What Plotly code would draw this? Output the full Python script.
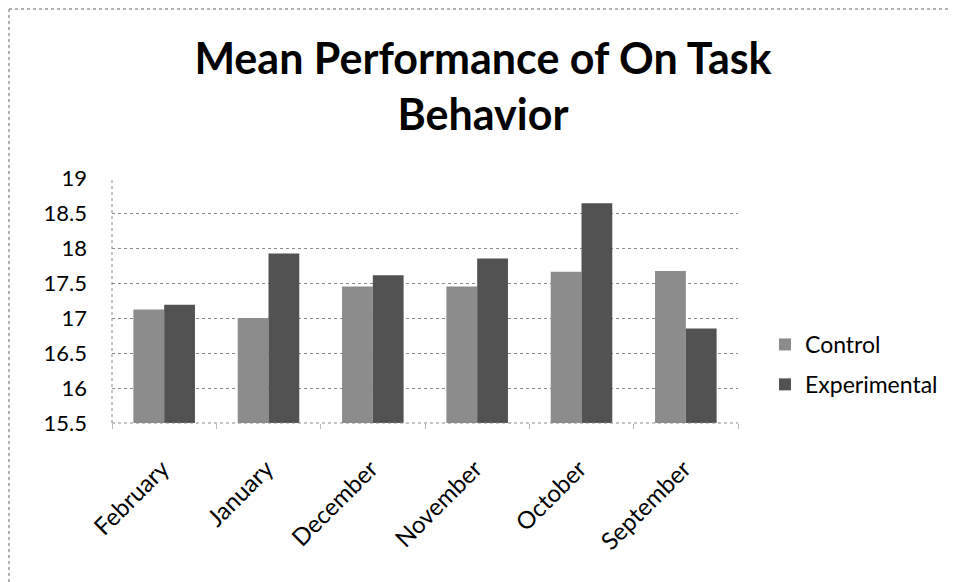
import plotly.graph_objects as go

months = ["February", "January", "December", "November", "October", "September"]
control = [17.12, 17.0, 17.45, 17.45, 17.66, 17.67]
experimental = [17.19, 17.92, 17.61, 17.85, 18.64, 16.85]
y_ticks = [15.5, 16, 16.5, 17, 17.5, 18, 18.5, 19]

FONT = "Lato, Open Sans, sans-serif"

fig = go.Figure()
fig.add_trace(go.Bar(x=months, y=control, name="Control", legendgroup="a",
                     marker=dict(color="#8c8c8c", line=dict(width=0))))
fig.add_trace(go.Bar(x=months, y=experimental, name="Experimental", legendgroup="b",
                     marker=dict(color="#525252", line=dict(width=0))))

# page body has an 8px margin, so the figure is sized/offset to compensate
W, H = 950, 574
L, R, T, B = 104, 220, 170, 159
pw = W - L - R
ph = H - T - B

fig.update_layout(
    width=W, height=H,
    margin=dict(l=L, r=R, t=T, b=B, autoexpand=False),
    paper_bgcolor="white", plot_bgcolor="white",
    barmode="group", bargap=0.41, bargroupgap=0,
    font=dict(family=FONT, color="black"),
    title=dict(text="<b>Mean Performance of On Task<br>Behavior</b>", x=0.5, xanchor="center",
               y=1 - 66 / H, yanchor="middle", font=dict(size=43, family=FONT)),
    legend=dict(x=(757 - L) / pw, xanchor="left", y=(415 - 315) / ph, yanchor="top",
                font=dict(size=23), itemwidth=30, tracegroupgap=7, bgcolor="rgba(0,0,0,0)"),
    showlegend=True,
)
fig.update_yaxes(range=[15.5, 19], tickvals=y_ticks, ticktext=[f"{v:g}" for v in y_ticks],
                 showgrid=True, gridcolor="#8a8a8a", griddash="dot", gridwidth=1,
                 showline=False, zeroline=False,
                 tickfont=dict(size=22), ticks="", ticklabelstandoff=24)
fig.update_xaxes(showline=False, tickangle=-45,
                 tickfont=dict(size=24), ticks="outside", tickson="boundaries", ticklen=5,
                 tickcolor="#bbbbbb", showgrid=False, ticklabelstandoff=26, ticklabelshift=-2)

# dotted axis lines
fig.add_shape(type="line", xref="paper", yref="paper", x0=0, x1=0, y0=0, y1=1,
              line=dict(color="#8a8a8a", width=1, dash="dot"))
fig.add_shape(type="line", xref="paper", yref="paper", x0=0, x1=1, y0=0, y1=0,
              line=dict(color="#8a8a8a", width=1, dash="dot"))

# chart frame (top and left edges)
fig.add_shape(type="line", xref="paper", yref="paper",
              x0=(1 - L) / pw, x1=1 + R / pw, y0=1 + (T - 1) / ph, y1=1 + (T - 1) / ph,
              line=dict(color="#9a9a9a", width=1.5, dash="dot"))
fig.add_shape(type="line", xref="paper", yref="paper",
              x0=(1 - L) / pw, x1=(1 - L) / pw, y0=-B / ph, y1=1 + (T - 1) / ph,
              line=dict(color="#9a9a9a", width=1.5, dash="dot"))

fig.write_html("out.html")
